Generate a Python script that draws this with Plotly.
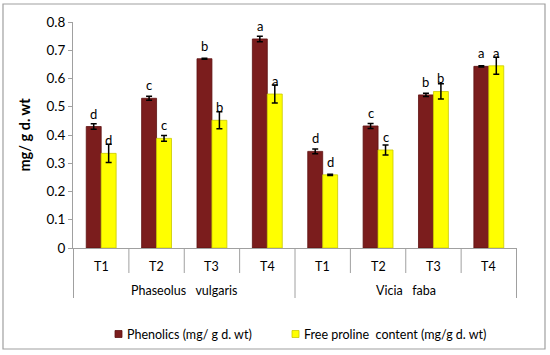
import plotly.graph_objects as go

species = ["Phaseolus   vulgaris"] * 4 + ["Vicia   faba"] * 4
treatments = ["T1", "T2", "T3", "T4"] * 2
groups = ["Phaseolus   vulgaris", "Vicia   faba"]

phenolics = [0.43, 0.53, 0.67, 0.74, 0.342, 0.432, 0.542, 0.643]
phenolics_err = [0.010, 0.007, 0.002, 0.010, 0.008, 0.009, 0.006, 0.002]
phen_letters = ["d", "c", "b", "a", "d", "c", "b", "a"]

proline = [0.335, 0.388, 0.452, 0.545, 0.259, 0.347, 0.554, 0.645]
proline_err = [0.032, 0.010, 0.030, 0.032, 0.002, 0.018, 0.027, 0.030]
prol_letters = ["d", "c", "b", "a", "d", "c", "b", "a"]

y_ticks = [0, 0.1, 0.2, 0.3, 0.4, 0.5, 0.6, 0.7, 0.8]
y_ticktext = ["0", "0.1", "0.2", "0.3", "0.4", "0.5", "0.6", "0.7", "0.8"]

PHEN_COLOR = "#7b1d1d"
PROL_COLOR = "#ffff00"
LINE_GRAY = "#a0a0a0"
FONT = "Lato, 'Open Sans', sans-serif"
BARGAP = 0.46
half = (1 - BARGAP) / 4

# plot area in pixels
L, R, T, B = 73, 517, 22, 248
W, H = R - L, B - T


def px_x(p):
    return (p - L) / W


def px_y(p):
    return (B - p) / H


def keep_spaces(s):
    # preserve runs of spaces in SVG text
    return s.replace("  ", " \u00a0")


fig = go.Figure()
fig.add_trace(go.Bar(
    x=[species, treatments], y=phenolics, name="Phenolics (mg/ g d. wt)",
    marker=dict(color=PHEN_COLOR, line=dict(color="#5e1212", width=0.8)),
    error_y=dict(type="data", array=phenolics_err, color="black", thickness=1.5, width=3),
))
fig.add_trace(go.Bar(
    x=[species, treatments], y=proline, name="Free proline  content (mg/g d. wt)",
    marker=dict(color=PROL_COLOR, line=dict(color="#c9c900", width=0.8)),
    error_y=dict(type="data", array=proline_err, color="black", thickness=1.5, width=3),
))

annotations = []
for i, (v, t) in enumerate(zip(phenolics, phen_letters)):
    annotations.append(dict(x=i - half, y=v, xref="x", yref="y", text=t, showarrow=False,
                            yshift=13, font=dict(family=FONT, size=13, color="black")))
for i, (v, t) in enumerate(zip(proline, prol_letters)):
    annotations.append(dict(x=i + half, y=v, xref="x", yref="y", text=t, showarrow=False,
                            yshift=13, font=dict(family=FONT, size=13, color="black")))

# category labels
for i, t in enumerate(treatments):
    annotations.append(dict(x=i, y=px_y(266), xref="x", yref="paper", text=t, showarrow=False,
                            yanchor="middle", font=dict(family=FONT, size=12.5, color="black")))
for g, name in enumerate(groups):
    annotations.append(dict(x=g * 4 + 1.5, y=px_y(290), xref="x", yref="paper",
                            text=keep_spaces(keep_spaces(name)),
                            showarrow=False, yanchor="middle",
                            font=dict(family=FONT, size=12.5, color="black")))

shapes = [dict(type="rect", xref="paper", yref="paper",
               x0=px_x(3), x1=px_x(545), y0=px_y(349), y1=px_y(4),
               line=dict(color=LINE_GRAY, width=1.2), fillcolor="rgba(0,0,0,0)", layer="below")]
n = len(treatments)
for k in range(n + 1):
    is_group = (k % 4 == 0)
    shapes.append(dict(type="line", xref="x", yref="paper", x0=k - 0.5, x1=k - 0.5,
                       y0=0, y1=px_y(298 if is_group else 273),
                       line=dict(color=LINE_GRAY, width=1)))

# legend (drawn manually)
legend_items = [(fig.data[0].name, PHEN_COLOR, "#5e1212", 115),
                (fig.data[1].name, PROL_COLOR, "#c9c900", 292)]
for label, fc, lc, xpix in legend_items:
    shapes.append(dict(type="rect", xref="paper", yref="paper",
                       x0=px_x(xpix), x1=px_x(xpix + 7), y0=px_y(337.5), y1=px_y(330.5),
                       fillcolor=fc, line=dict(color=lc, width=0.8)))
    annotations.append(dict(x=px_x(xpix + 9.5), y=px_y(334), xref="paper", yref="paper",
                            text=keep_spaces(label), showarrow=False, xanchor="left",
                            yanchor="middle",
                            font=dict(family=FONT, size=12.5, color="black")))

fig.update_layout(
    width=550, height=355,
    margin=dict(l=L, r=550 - R, t=T, b=355 - B),
    paper_bgcolor="white", plot_bgcolor="white",
    barmode="group", bargap=BARGAP, bargroupgap=0,
    font=dict(family=FONT, size=11, color="black"),
    showlegend=False,
    annotations=annotations,
    shapes=shapes,
)
fig.update_xaxes(
    type="multicategory", showline=True, linecolor=LINE_GRAY, linewidth=1,
    ticks="", showticklabels=False, showdividers=False, showgrid=False,
)
fig.update_yaxes(
    range=[0, 0.8], tickvals=y_ticks, ticktext=y_ticktext,
    showline=True, linecolor=LINE_GRAY, linewidth=1, ticks="outside", ticklen=4,
    tickcolor=LINE_GRAY, showgrid=False, zeroline=False,
    tickfont=dict(family=FONT, size=13.5),
    title=dict(text="<b>mg/ g d. wt</b>", font=dict(family=FONT, size=14.5), standoff=12),
)
fig.write_html("out.html", config={"displayModeBar": False},
               post_script="document.body.style.margin='0';")
